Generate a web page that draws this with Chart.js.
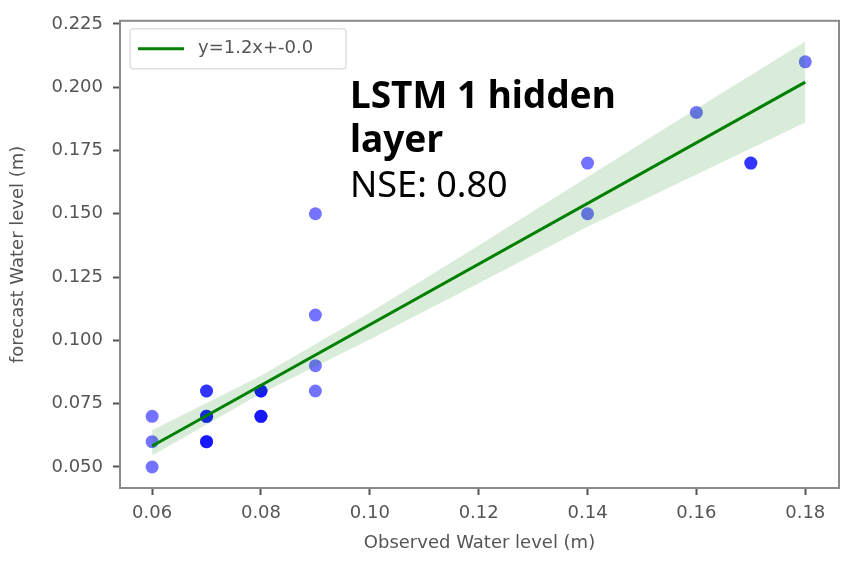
<!DOCTYPE html>
<html>
<head>
<meta charset="utf-8">
<script src="https://cdn.jsdelivr.net/npm/chart.js@4.4.0/dist/chart.umd.min.js"></script>
<style>
  body { margin: 0; background: #fff; }
  canvas { display: block; }
</style>
</head>
<body>
<canvas id="chart" width="846" height="562"></canvas>
<script>
// observed vs forecast water level (m), repeated pairs are overlapping points
const observed = [0.06, 0.06, 0.06, 0.07, 0.07, 0.07, 0.07, 0.07, 0.07, 0.07, 0.07,
                  0.08, 0.08, 0.08, 0.08, 0.08, 0.08, 0.09, 0.09, 0.09, 0.09,
                  0.14, 0.14, 0.16, 0.17, 0.17, 0.18];
const forecast = [0.07, 0.06, 0.05, 0.08, 0.08, 0.07, 0.07, 0.07, 0.06, 0.06, 0.06,
                  0.08, 0.08, 0.08, 0.07, 0.07, 0.07, 0.15, 0.11, 0.09, 0.08,
                  0.17, 0.15, 0.19, 0.17, 0.17, 0.21];

// regression line and its confidence band
const fitX = [0.06, 0.18];
const fitY = [0.0583, 0.202];
const bandX = [0.06, 0.08, 0.10, 0.12, 0.14, 0.16, 0.18];
const bandUpper = [0.0645, 0.0860, 0.1110, 0.1375, 0.1645, 0.1915, 0.2180];
const bandLower = [0.0545, 0.0790, 0.1003, 0.1226, 0.1449, 0.1655, 0.1860];

const xTicks = [0.06, 0.08, 0.10, 0.12, 0.14, 0.16, 0.18];
const yTicks = [0.050, 0.075, 0.100, 0.125, 0.150, 0.175, 0.200, 0.225];

const legendLabel = 'y=1.2x+-0.0';
const noteTitle = ['LSTM 1 hidden', 'layer'];
const noteScore = 'NSE: 0.80';

const tickFont = { family: 'DejaVu Sans', size: 18 };
const grey = '#555';

function pairs(xs, ys) {
    return xs.map(function(x, i) { return { x: x, y: ys[i] }; });
}

// frame round the plot area, like matplotlib spines
const framePlugin = {
    id: 'frame',
    afterDatasetsDraw: function(chart) {
        const a = chart.chartArea;
        const ctx = chart.ctx;
        ctx.save();
        ctx.strokeStyle = '#8a8a8a';
        ctx.lineWidth = 2;
        ctx.strokeRect(a.left, a.top, a.right - a.left, a.bottom - a.top);
        ctx.restore();
    }
};

// legend box and the text note in the upper left
const notePlugin = {
    id: 'note',
    afterDraw: function(chart) {
        const ctx = chart.ctx;
        const a = chart.chartArea;
        ctx.save();

        // legend
        const lx = a.left + 10, ly = a.top + 8;
        ctx.fillStyle = 'rgba(255,255,255,0.8)';
        ctx.strokeStyle = '#e0e0e0';
        ctx.lineWidth = 1.5;
        ctx.beginPath();
        ctx.roundRect(lx, ly, 216, 40, 3);
        ctx.fill();
        ctx.stroke();
        ctx.strokeStyle = '#008000';
        ctx.lineWidth = 3;
        ctx.beginPath();
        ctx.moveTo(lx + 8, ly + 20);
        ctx.lineTo(lx + 54, ly + 20);
        ctx.stroke();
        ctx.fillStyle = grey;
        ctx.font = '18px "DejaVu Sans"';
        ctx.textBaseline = 'middle';
        ctx.fillText(legendLabel, lx + 68, ly + 20);

        // annotation
        ctx.fillStyle = '#000';
        ctx.textBaseline = 'alphabetic';
        ctx.font = 'bold 37px "Noto Sans"';
        ctx.fillText(noteTitle[0], 350, 108);
        ctx.fillText(noteTitle[1], 350, 152);
        ctx.font = '36px "Noto Sans"';
        ctx.fillText(noteScore, 350, 197);
        ctx.restore();
    }
};

new Chart(document.getElementById('chart'), {
    type: 'scatter',
    data: {
        datasets: [
            {
                label: 'band upper',
                data: pairs(bandX, bandUpper),
                showLine: true,
                borderWidth: 0,
                borderColor: 'rgba(0,0,0,0)',
                pointRadius: 0,
                fill: '+1',
                backgroundColor: 'rgba(0,128,0,0.15)',
                order: 2
            },
            {
                label: 'band lower',
                data: pairs(bandX, bandLower),
                showLine: true,
                borderWidth: 0,
                borderColor: 'rgba(0,0,0,0)',
                pointRadius: 0,
                fill: false,
                order: 2
            },
            {
                label: legendLabel,
                data: pairs(fitX, fitY),
                showLine: true,
                borderColor: '#008000',
                borderWidth: 3,
                pointRadius: 0,
                fill: false,
                order: 1
            },
            {
                label: 'points',
                data: pairs(observed, forecast),
                backgroundColor: 'rgba(0,0,255,0.55)',
                borderWidth: 0,
                pointRadius: 6.5,
                order: 3
            }
        ]
    },
    options: {
        responsive: false,
        animation: false,
        layout: { padding: { left: 0, top: 20, right: 7, bottom: 0 } },
        plugins: {
            legend: { display: false },
            tooltip: { enabled: false }
        },
        scales: {
            x: {
                type: 'linear',
                min: 0.0541,
                max: 0.1862,
                afterBuildTicks: function(scale) {
                    scale.ticks = xTicks.map(function(v) { return { value: v }; });
                },
                afterFit: function(scale) { scale.height = 74; },
                grid: { drawOnChartArea: false, tickLength: 7, tickColor: grey, tickWidth: 2 },
                border: { display: false },
                ticks: {
                    font: tickFont,
                    color: grey,
                    padding: 8,
                    maxRotation: 0,
                    callback: function(v) { return v.toFixed(2); }
                },
                title: {
                    display: true,
                    text: 'Observed Water level (m)',
                    font: tickFont,
                    color: grey,
                    padding: { top: 0, bottom: 8 }
                }
            },
            y: {
                type: 'linear',
                min: 0.0417,
                max: 0.2262,
                afterBuildTicks: function(scale) {
                    scale.ticks = yTicks.map(function(v) { return { value: v }; });
                },
                afterFit: function(scale) { scale.width = 120; },
                grid: { drawOnChartArea: false, tickLength: 7, tickColor: grey, tickWidth: 2 },
                border: { display: false },
                ticks: {
                    font: tickFont,
                    color: grey,
                    padding: 10,
                    callback: function(v) { return v.toFixed(3); }
                },
                title: {
                    display: true,
                    text: 'forecast Water level (m)',
                    font: tickFont,
                    color: grey,
                    padding: { top: 8, bottom: 0 }
                }
            }
        }
    },
    plugins: [framePlugin, notePlugin]
});
</script>
</body>
</html>
